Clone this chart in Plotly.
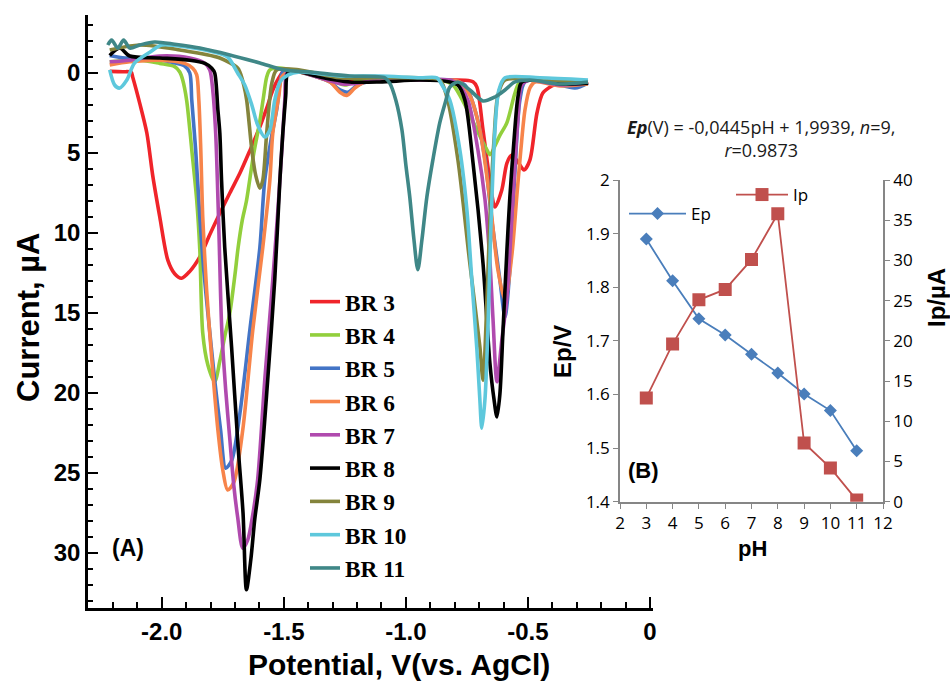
import plotly.graph_objects as go

W, H = 950, 686

# ---- (A) differential pulse voltammograms in Britton-Robinson buffers ----
br3_v = [-2.213, -2.160, -2.125, -2.119, -2.090, -2.061, -2.037, -2.008, -1.975, -1.947, -1.919, -1.885, -1.844, -1.803,
         -1.762, -1.721, -1.680, -1.639, -1.598, -1.570, -1.545, -1.520, -1.496, -1.434, -1.311, -1.189, -1.025, -0.861,
         -0.758, -0.725, -0.709, -0.684, -0.656, -0.635, -0.607, -0.586, -0.566, -0.541, -0.516, -0.492, -0.463, -0.439,
         -0.402, -0.369, -0.307, -0.254]
br3_i = [-0.1, -0.08, -0.05, 0.25, 1.9, 3.75, 6.4, 9.0, 11.7, 12.55, 12.83, 12.4, 11.5, 10.1,
         8.77, 7.5, 6.27, 4.85, 3.36, 2.2, 1.06, 0.3, -0.19, -0.06, 0.3, 0.45, 0.45, 0.45,
         0.45, 0.55, 0.88, 3.56, 6.69, 8.38, 7.31, 5.63, 5.13, 5.56, 6.06, 5.44, 2.5, 1.25,
         0.81, 0.63, 0.88, 0.56]

br4_v = [-2.213, -2.090, -2.008, -1.947, -1.926, -1.914, -1.898, -1.877, -1.857, -1.844, -1.832, -1.811, -1.783, -1.762,
         -1.741, -1.721, -1.700, -1.687, -1.670, -1.653, -1.625, -1.598, -1.584, -1.570, -1.557, -1.516, -1.434, -1.311,
         -1.250, -1.189, -1.025, -0.861, -0.807, -0.758, -0.709, -0.668, -0.656, -0.615, -0.586, -0.553, -0.533, -0.451,
         -0.369, -0.254]
br4_i = [-0.7, -0.8, -0.6, -0.4, -0.06, 0.44, 1.7, 4.8, 7.9, 11.06, 16.25, 18.25, 19.3, 18.0,
         16.4, 15.0, 12.6, 10.9, 9.2, 8.0, 5.2, 3.0, 1.6, 0.25, -0.19, -0.31, -0.06, 0.44,
         0.75, 0.44, 0.3, 0.44, 0.75, 2.0, 3.56, 4.8, 5.1, 3.9, 3.1, 1.25, 0.56, 0.44,
         0.7, 0.56]

br5_v = [-2.213, -2.150, -2.049, -1.967, -1.906, -1.885, -1.877, -1.861, -1.844, -1.828, -1.811, -1.783, -1.759, -1.738,
         -1.713, -1.680, -1.639, -1.598, -1.578, -1.549, -1.529, -1.504, -1.475, -1.434, -1.311, -1.270, -1.238, -1.197,
         -1.107, -0.943, -0.820, -0.758, -0.717, -0.676, -0.648, -0.615, -0.594, -0.574, -0.553, -0.533, -0.512, -0.431,
         -0.369, -0.307, -0.254]
br5_i = [-1.1, -0.94, -0.94, -0.7, -0.44, 0.0, 1.7, 4.8, 9.0, 12.3, 15.0, 19.2, 22.3, 24.7,
         24.2, 21.3, 16.06, 10.9, 6.7, 3.9, 2.3, -0.06, -0.19, -0.06, 0.56, 1.06, 1.2, 0.75,
         0.44, 0.44, 0.44, 0.75, 2.3, 5.4, 9.2, 12.9, 15.25, 12.3, 6.06, 1.7, 0.56, 0.44,
         0.75, 0.94, 0.63]

br6_v = [-2.213, -2.131, -2.008, -1.906, -1.873, -1.857, -1.848, -1.840, -1.832, -1.816, -1.795, -1.770, -1.750, -1.730,
         -1.705, -1.668, -1.627, -1.586, -1.557, -1.545, -1.520, -1.508, -1.475, -1.434, -1.311, -1.270, -1.242, -1.209,
         -1.168, -1.025, -0.861, -0.779, -0.738, -0.697, -0.656, -0.623, -0.594, -0.566, -0.545, -0.529, -0.512, -0.492,
         -0.471, -0.369, -0.254]
br6_i = [-0.5, -0.7, -0.8, -0.6, -0.3, 0.1, 1.7, 4.8, 9.0, 13.6, 17.9, 22.3, 24.8, 26.06,
         25.6, 22.3, 16.06, 10.9, 6.7, 3.75, 1.4, 0.25, -0.13, -0.06, 0.56, 1.2, 1.4, 0.94,
         0.56, 0.44, 0.44, 0.56, 1.4, 3.56, 7.9, 12.3, 14.2, 11.4, 7.6, 4.8, 2.3, 0.94,
         0.56, 0.81, 0.69]

br7_v = [-2.213, -2.131, -2.008, -1.885, -1.823, -1.803, -1.791, -1.779, -1.766, -1.754, -1.738, -1.721, -1.705, -1.689,
         -1.668, -1.648, -1.627, -1.607, -1.578, -1.545, -1.525, -1.508, -1.496, -1.488, -1.463, -1.352, -1.250, -1.107,
         -0.943, -0.820, -0.787, -0.746, -0.705, -0.676, -0.656, -0.643, -0.627, -0.607, -0.586, -0.561, -0.541, -0.525,
         -0.492, -0.369, -0.254]
br7_i = [-0.7, -0.8, -1.06, -0.94, -0.6, -0.19, 1.06, 3.75, 9.8, 16.06, 19.8, 22.9, 25.75, 27.75,
         29.7, 29.2, 27.6, 25.4, 19.2, 12.9, 8.75, 4.8, 1.7, 0.0, -0.19, 0.3, 0.7, 0.44,
         0.44, 0.44, 0.7, 1.7, 4.8, 7.9, 11.7, 15.4, 19.3, 16.7, 14.0, 7.75, 2.9, 0.75,
         0.44, 0.75, 0.63]

br8_v = [-2.213, -2.172, -2.131, -2.008, -1.885, -1.823, -1.795, -1.783, -1.770, -1.762, -1.755, -1.742, -1.714, -1.687,
         -1.667, -1.653, -1.635, -1.619, -1.598, -1.566, -1.537, -1.516, -1.504, -1.492, -1.484, -1.455, -1.352, -1.230,
         -1.107, -0.943, -0.820, -0.787, -0.758, -0.725, -0.684, -0.656, -0.639, -0.627, -0.615, -0.602, -0.586, -0.574,
         -0.557, -0.541, -0.525, -0.451, -0.369, -0.254]
br8_i = [-1.1, -1.56, -1.06, -0.94, -0.8, -0.6, -0.3, 0.0, 2.3, 3.75, 6.7, 10.9, 17.1, 23.4,
         27.5, 32.3, 30.4, 27.9, 25.4, 19.2, 12.9, 6.7, 3.75, 1.4, 0.0, -0.13, 0.25, 0.56,
         0.56, 0.44, 0.56, 0.75, 1.7, 5.6, 11.9, 18.1, 20.4, 21.5, 20.1, 16.06, 11.06, 7.75,
         4.2, 1.5, 0.56, 0.44, 0.69, 0.63]

br9_v = [-2.213, -2.090, -1.926, -1.762, -1.689, -1.680, -1.664, -1.652, -1.631, -1.615, -1.598, -1.586, -1.570, -1.549,
         -1.529, -1.434, -1.270, -1.107, -0.943, -0.861, -0.832, -0.787, -0.738, -0.697, -0.684, -0.668, -0.656, -0.639,
         -0.623, -0.594, -0.451, -0.254]
br9_i = [-1.44, -1.75, -1.44, -0.94, -0.31, -0.06, 0.75, 1.7, 4.8, 6.4, 7.2, 6.7, 3.75, 0.63,
         -0.19, -0.19, 0.3, 0.3, 0.3, 0.44, 1.5, 5.4, 11.9, 17.1, 19.2, 14.2, 9.2, 4.2,
         1.4, 0.44, 0.44, 0.56]

br10_v = [-2.213, -2.193, -2.172, -2.143, -2.111, -2.049, -2.000, -1.885, -1.783, -1.730, -1.689, -1.660, -1.631, -1.607,
          -1.578, -1.557, -1.537, -1.516, -1.484, -1.434, -1.270, -1.107, -0.943, -0.873, -0.852, -0.820, -0.779, -0.750,
          -0.730, -0.709, -0.697, -0.689, -0.676, -0.664, -0.652, -0.635, -0.619, -0.594, -0.451, -0.254]
br10_i = [-0.19, 0.75, 0.94, 0.44, -0.63, -1.3, -1.75, -1.6, -1.3, -1.0, 0.0, 0.75, 2.0, 3.25,
          4.0, 3.56, 1.7, 0.56, 0.13, -0.06, 0.19, 0.19, 0.3, 0.3, 0.75, 1.7, 4.8, 8.56,
          12.9, 17.3, 20.4, 22.2, 20.4, 16.06, 9.8, 3.56, 1.06, 0.3, 0.3, 0.44]

br11_v = [-2.221, -2.205, -2.180, -2.156, -2.131, -2.090, -2.029, -1.947, -1.844, -1.721, -1.598, -1.496, -1.393, -1.230,
          -1.086, -1.066, -1.041, -1.016, -1.000, -0.984, -0.967, -0.951, -0.934, -0.914, -0.889, -0.861, -0.836, -0.820,
          -0.787, -0.738, -0.684, -0.635, -0.594, -0.553, -0.492, -0.369, -0.254]
br11_i = [-1.75, -2.06, -1.56, -2.06, -1.56, -1.75, -1.94, -1.8, -1.56, -1.13, -0.63, -0.19, -0.06, 0.19,
          0.3, 0.63, 1.7, 3.56, 5.75, 7.75, 10.4, 12.3, 10.4, 7.75, 5.4, 3.1, 1.7, 0.88,
          0.56, 1.06, 1.75, 1.5, 1.06, 0.56, 0.44, 0.69, 0.56]

series_names = ["BR 3", "BR 4", "BR 5", "BR 6", "BR 7", "BR 8", "BR 9", "BR 10", "BR 11"]
series_v = [br3_v, br4_v, br5_v, br6_v, br7_v, br8_v, br9_v, br10_v, br11_v]
series_i = [br3_i, br4_i, br5_i, br6_i, br7_i, br8_i, br9_i, br10_i, br11_i]
series_colors = ["#f0242a", "#92cf3c", "#4374c6", "#f7844a", "#b04aae", "#000000", "#84843c", "#5ec8dc", "#3f8787"]

pot_ticks = [-2.0, -1.5, -1.0, -0.5, 0]
pot_labels = ["-2.0", "-1.5", "-1.0", "-0.5", "0"]
cur_ticks = [0, 5, 10, 15, 20, 25, 30]

# ---- (B) peak potential / peak current versus pH ----
ph = [3, 4, 5, 6, 7, 8, 9, 10, 11]
ep = [1.890, 1.812, 1.741, 1.711, 1.675, 1.640, 1.601, 1.570, 1.495]
ip = [12.9, 19.6, 25.1, 26.4, 30.1, 35.8, 7.3, 4.2, 0.2]
ep_ticks = [1.4, 1.5, 1.6, 1.7, 1.8, 1.9, 2.0]
ep_labels = ["1.4", "1.5", "1.6", "1.7", "1.8", "1.9", "2"]


def px_x(p):
    return p / W


def px_y(p):
    return 1 - p / H


ARIAL = "Liberation Sans, Arial, sans-serif"
SERIF = "Liberation Serif, Times New Roman, serif"
CAL = "Open Sans, Calibri, sans-serif"
GREY = "#868686"

fig = go.Figure()

for name, v, i, c in zip(series_names, series_v, series_i, series_colors):
    fig.add_trace(go.Scatter(
        x=v, y=i, name=name, mode="lines",
        line=dict(color=c, width=3.6, shape="spline", smoothing=0.8),
        xaxis="x", yaxis="y", legend="legend",
    ))

fig.add_trace(go.Scatter(
    x=ph, y=ep, name="Ep", mode="lines+markers",
    line=dict(color="#4a7ebb", width=1.8),
    marker=dict(symbol="diamond", size=10, color="#4a7ebb"),
    xaxis="x2", yaxis="y2", legend="legend2",
))
fig.add_trace(go.Scatter(
    x=ph, y=ip, name="Ip", mode="lines+markers",
    line=dict(color="#c0504d", width=1.8),
    marker=dict(symbol="square", size=13, color="#c0504d"),
    xaxis="x2", yaxis="y3", legend="legend3",
))

main_tick_font = dict(family=ARIAL, size=24, color="black", weight="bold")


def label(text, x, y, size, family=ARIAL, angle=0, color="black"):
    return dict(text=text, x=px_x(x), y=px_y(y), xref="paper", yref="paper",
                xanchor="center", yanchor="middle", showarrow=False, textangle=angle,
                align="center", font=dict(family=family, size=size, color=color))


fig.update_layout(
    width=W, height=H,
    margin=dict(l=0, r=0, t=0, b=0),
    paper_bgcolor="white",
    plot_bgcolor="rgba(0,0,0,0)",
    showlegend=True,
    xaxis=dict(
        domain=[px_x(88), px_x(653)], range=[-2.302, 0.0123], anchor="y",
        showline=True, linecolor="black", linewidth=2.5, showgrid=False, zeroline=False,
        tickvals=pot_ticks, ticktext=pot_labels, ticks="inside", ticklen=11, tickwidth=2,
        tickcolor="black", tickfont=main_tick_font,
        minor=dict(dtick=0.1, tick0=0, ticks="inside", ticklen=6, tickwidth=2, tickcolor="black"),
        automargin=False,
    ),
    yaxis=dict(
        domain=[px_y(608), px_y(15)], range=[33.44, -3.625], anchor="x",
        showline=True, linecolor="black", linewidth=2.5, showgrid=False, zeroline=False,
        tickvals=cur_ticks, ticks="inside", ticklen=10, tickwidth=2, tickcolor="black",
        tickfont=main_tick_font,
        minor=dict(dtick=1, tick0=0, ticks="inside", ticklen=5, tickwidth=2, tickcolor="black"),
        automargin=False,
    ),
    xaxis2=dict(
        domain=[px_x(620), px_x(883)], range=[2, 12], anchor="y2",
        showline=True, linecolor=GREY, linewidth=1.6, showgrid=False, zeroline=False,
        dtick=1, ticks="outside", ticklen=5, tickwidth=1.3, tickcolor=GREY,
        tickfont=dict(family=CAL, size=17, color="black"),
        automargin=False,
    ),
    yaxis2=dict(
        domain=[px_y(501.7), px_y(180)], range=[1.4, 2.0], anchor="x2",
        showline=True, linecolor=GREY, linewidth=1.6, showgrid=False, zeroline=False,
        tickvals=ep_ticks, ticktext=ep_labels, ticks="outside", ticklen=5, tickwidth=1.3,
        tickcolor=GREY, tickfont=dict(family=CAL, size=17, color="black"),
        automargin=False,
    ),
    yaxis3=dict(
        range=[0, 40], anchor="x2", overlaying="y2", side="right",
        showline=True, linecolor=GREY, linewidth=1.6, showgrid=False, zeroline=False,
        dtick=5, ticks="outside", ticklen=5, tickwidth=1.3, tickcolor=GREY,
        tickfont=dict(family=CAL, size=17, color="black"),
        automargin=False,
    ),
    legend=dict(
        x=px_x(305), y=px_y(280), xanchor="left", yanchor="top",
        bgcolor="rgba(0,0,0,0)", borderwidth=0,
        font=dict(family=SERIF, size=23.3, color="black", weight="bold"),
        tracegroupgap=0, itemwidth=30,
    ),
    legend2=dict(
        x=px_x(624), y=px_y(214), xanchor="left", yanchor="middle",
        bgcolor="rgba(0,0,0,0)", borderwidth=0, itemwidth=57,
        font=dict(family=CAL, size=17, color="black"),
    ),
    legend3=dict(
        x=px_x(731), y=px_y(195), xanchor="left", yanchor="middle",
        bgcolor="rgba(0,0,0,0)", borderwidth=0, itemwidth=52,
        font=dict(family=CAL, size=17, color="black"),
    ),
    annotations=[
        label("<b>Potential, V(vs. AgCl)</b>", 399, 664, 30),
        label("<b>Current, µA</b>", 28, 318, 31, angle=-90),
        label("<b>(A)</b>", 128, 548, 23),
        label("<b>(B)</b>", 643, 470, 22),
        label("<b>pH</b>", 752, 548, 22),
        label("<b>Ep/V</b>", 562, 352, 24, angle=-90),
        label("<b>Ip/µA</b>", 936, 298, 24, angle=-90),
        label("<b><i>Ep</i></b>(V) = -0,0445pH + 1,9939, <i>n</i>=9,<br><i>r</i>=0.9873",
              761, 139, 18, family=CAL, color="#1a1a1a"),
    ],
)

fig.write_html("out.html")
